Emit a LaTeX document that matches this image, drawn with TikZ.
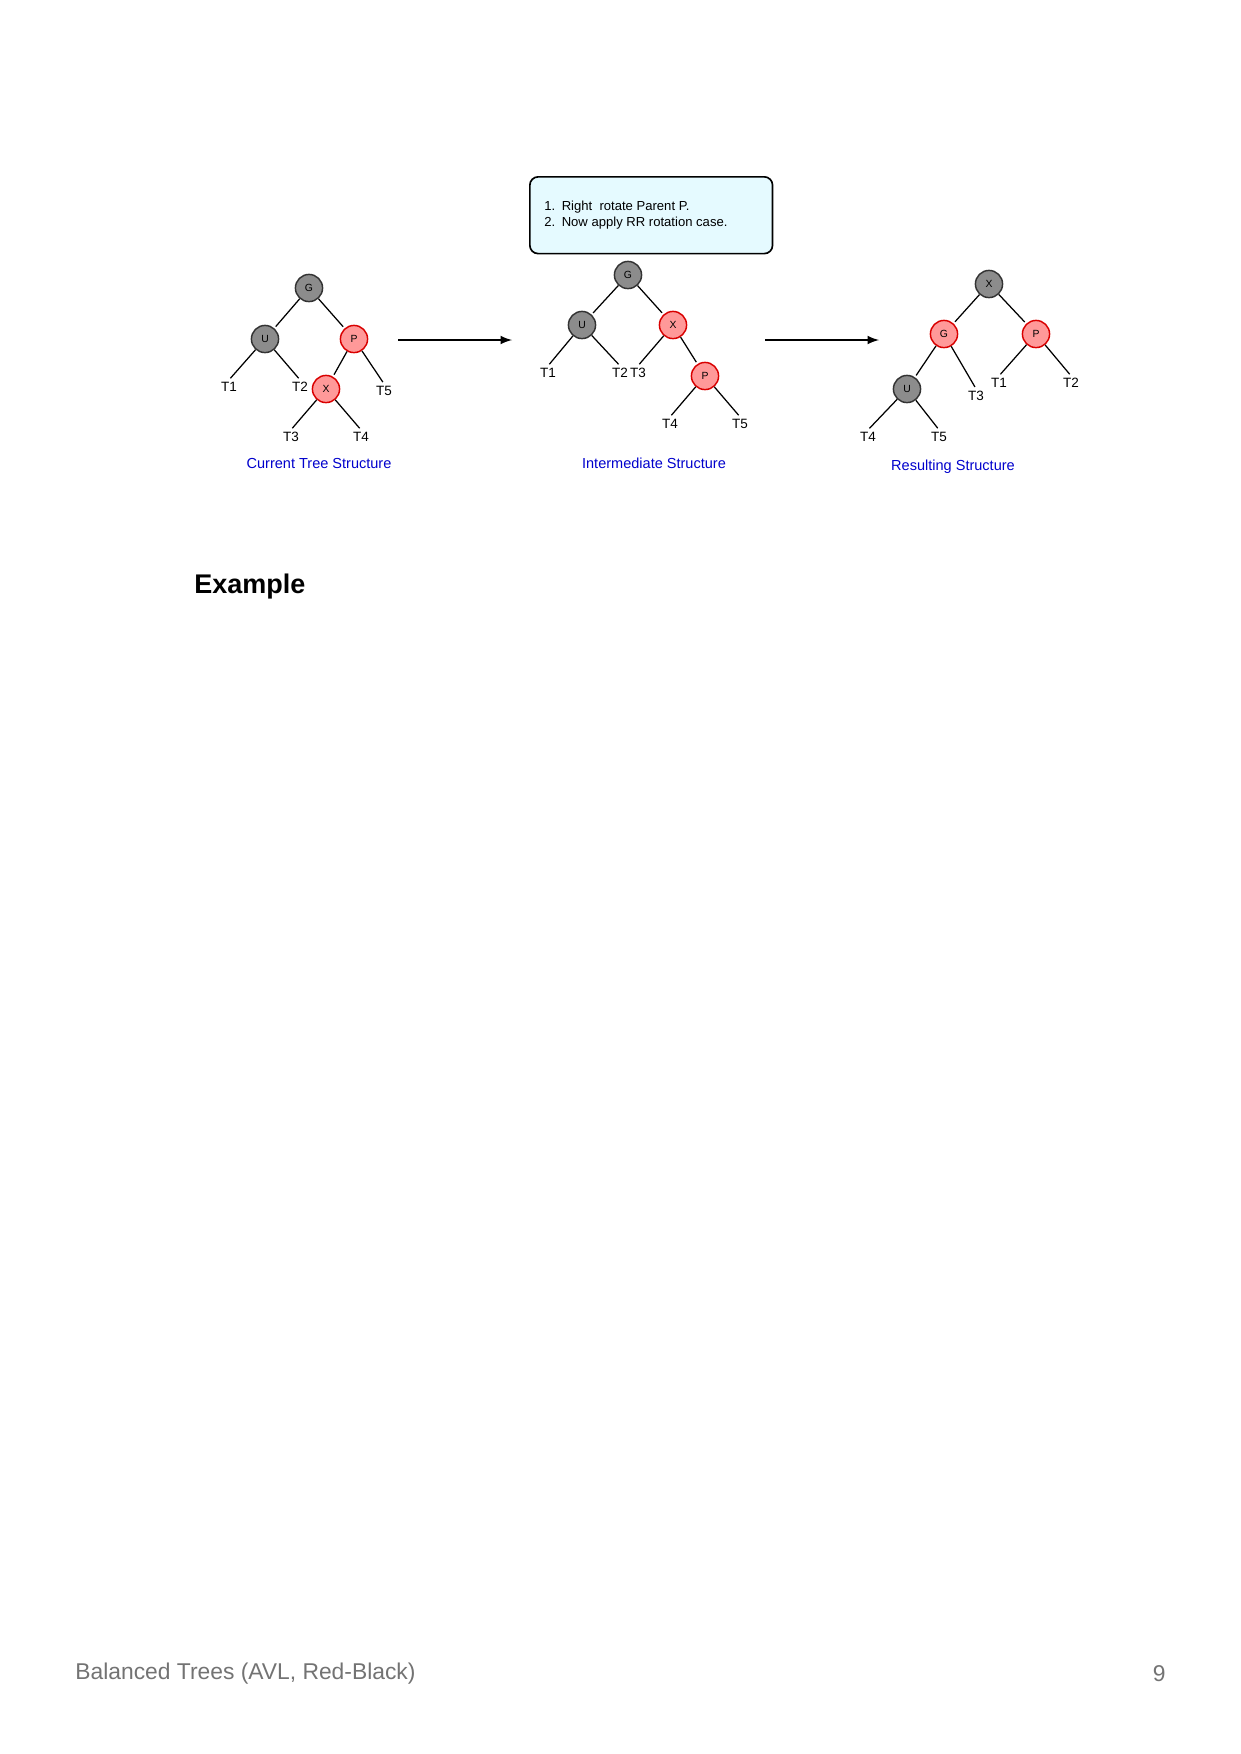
\documentclass[tikz,border=0pt]{standalone}
\usepackage{fontspec}
\setmainfont{Liberation Sans}
\begin{document}
\begin{tikzpicture}[x=0.16933mm,y=-0.16933mm,
  blk/.style={circle,draw=black!80,fill=black!45,minimum size=4.6mm,inner sep=0pt,font=\fontsize{5}{6}\selectfont,line width=0.7pt},
  rnode/.style={circle,draw=red!85!black,fill=red!40,minimum size=4.6mm,inner sep=0pt,font=\fontsize{5}{6}\selectfont,line width=0.7pt},
  lf/.style={font=\fontsize{6.5}{8}\selectfont,inner sep=1pt},
  captxt/.style={font=\fontsize{7}{9}\selectfont,text=blue!80!black},
  ed/.style={line width=0.6pt,shorten >=1pt},
  ar/.style={line width=0.9pt,-latex}]
\useasboundingbox (0,0) rectangle (1240,1754);
% tree 1
\node[blk] (G1) at (309,288) {G};
\node[blk] (U1) at (265,339) {U};
\node[rnode] (P1) at (354,339) {P};
\node[rnode] (X1) at (326,389) {X};
\node[lf] (a1) at (229,387) {T1};
\node[lf] (a2) at (300,387) {T2};
\node[lf] (a5) at (384,391) {T5};
\node[lf] (a3) at (291,437) {T3};
\node[lf] (a4) at (361,437) {T4};
\node[captxt] (c1) at (319,463) {Current Tree Structure};
\draw[ed] (G1)--(U1); \draw[ed] (G1)--(P1);
\draw[ed] (U1)--(a1.north); \draw[ed] (U1)--(a2.north);
\draw[ed] (P1)--(X1); \draw[ed] (P1)--(a5.north);
\draw[ed] (X1)--(a3.north); \draw[ed] (X1)--(a4.north);
% arrow 1
\coordinate (s1) at (398,340); \coordinate (e1) at (512,340);
\draw[ar] (s1)--(e1);
% box
\node[draw,rounded corners=4,fill=blue!18!cyan!10!white,line width=0.8pt,minimum width=41.1mm,minimum height=13mm,anchor=north west,inner sep=0pt] (bx) at (529,176) {};
\node[anchor=west,font=\fontsize{6.3}{7.8}\selectfont,align=left] (bt) at (537,215) {1.\enspace Right\ \ rotate Parent P.\\2.\enspace Now apply RR rotation case.};
% tree 2
\node[blk] (G2) at (628,275) {G};
\node[blk] (U2) at (582,325) {U};
\node[rnode] (X2) at (673,325) {X};
\node[rnode] (P2) at (705,376) {P};
\node[lf] (b1) at (548,373) {T1};
\node[lf] (b2) at (620,373) {T2};
\node[lf] (b3) at (638,373) {T3};
\node[lf] (b4) at (670,424) {T4};
\node[lf] (b5) at (740,424) {T5};
\node[captxt] (c2) at (654,463) {Intermediate Structure};
\draw[ed] (G2)--(U2); \draw[ed] (G2)--(X2);
\draw[ed] (U2)--(b1.north); \draw[ed] (U2)--(b2.north);
\draw[ed] (X2)--(b3.north); \draw[ed] (X2)--(P2);
\draw[ed] (P2)--(b4.north); \draw[ed] (P2)--(b5.north);
% arrow 2
\coordinate (s2) at (765,340); \coordinate (e2) at (879,340);
\draw[ar] (s2)--(e2);
% tree 3
\node[blk] (X3) at (989,284) {X};
\node[rnode] (G3) at (944,334) {G};
\node[rnode] (P3) at (1036,334) {P};
\node[blk] (U3) at (907,389) {U};
\node[lf] (d3) at (976,396) {T3};
\node[lf] (d1) at (999,383) {T1};
\node[lf] (d2) at (1071,383) {T2};
\node[lf] (d4) at (868,437) {T4};
\node[lf] (d5) at (939,437) {T5};
\node[captxt] (c3) at (953,467) {Resulting Structure};
\draw[ed] (X3)--(G3); \draw[ed] (X3)--(P3);
\draw[ed] (G3)--(U3); \draw[ed] (G3)--(d3.north);
\draw[ed] (P3)--(d1.north); \draw[ed] (P3)--(d2.north);
\draw[ed] (U3)--(d4.north); \draw[ed] (U3)--(d5.north);
% text
\node[anchor=west,font=\fontsize{13}{15}\selectfont\bfseries,inner sep=0pt] (ex) at (194,587) {Example};
\node[anchor=west,font=\fontsize{11}{13}\selectfont,text=black!55,inner sep=0pt] (ft) at (75,1674) {Balanced Trees (AVL, Red-Black)};
\node[anchor=east,font=\fontsize{11}{13}\selectfont,text=black!55,inner sep=0pt] (pg) at (1166,1674) {9};
\end{tikzpicture}
\end{document}
